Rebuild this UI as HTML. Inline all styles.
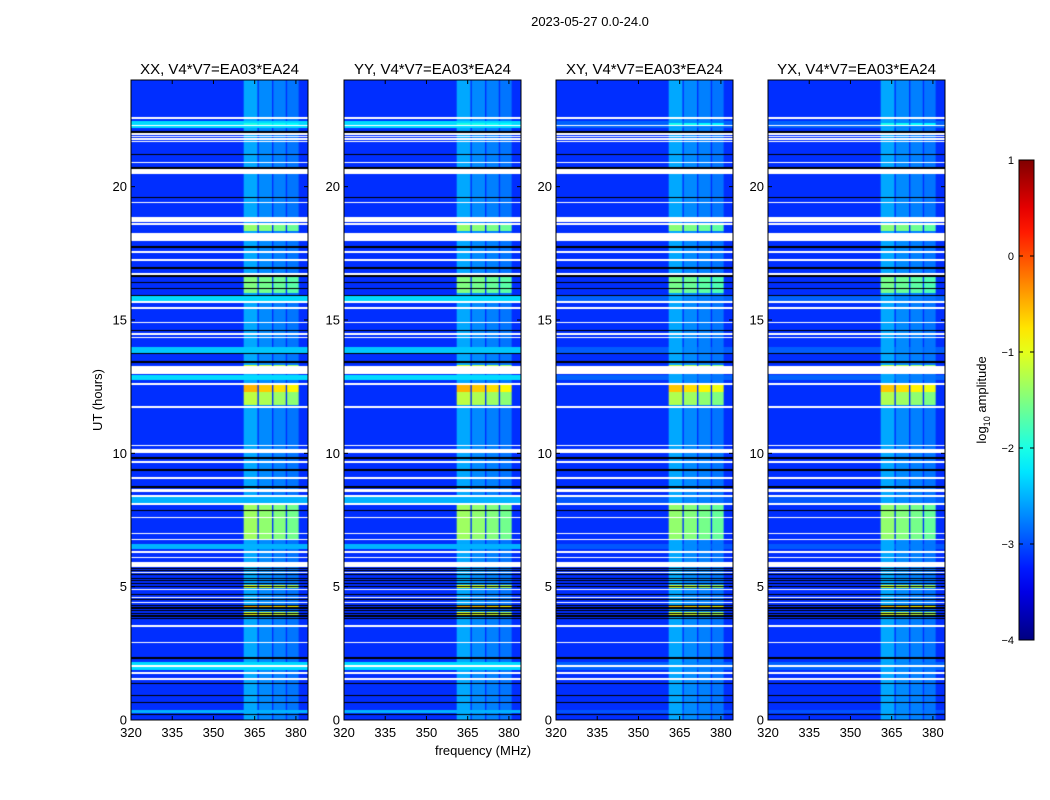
<!DOCTYPE html>
<html><head><meta charset="utf-8">
<style>
body{margin:0;background:#fff;width:1050px;height:800px;overflow:hidden;font-family:"Liberation Sans",sans-serif;}
#wrap{position:relative;width:1050px;height:800px;}
canvas{position:absolute;}
svg{position:absolute;left:0;top:0;}
</style></head><body>
<div id="wrap">
<svg id="svg" width="1050" height="800"></svg>
</div>
<script>
// ---- data (hours, MHz, log10 amplitude) ----
const panelTitles = ["XX, V4*V7=EA03*EA24","YY, V4*V7=EA03*EA24","XY, V4*V7=EA03*EA24","YX, V4*V7=EA03*EA24"];
const panelGain = [1.0, 1.0, 0.95, 0.95];
const cyanGain = [1.0, 1.0, 0.3, 0.3];
const yTicks = [0,5,10,15,20];
const xTicks = [320,335,350,365,380];
const cbTicks = [1,0,-1,-2,-3,-4];
const backgroundLevel = -3.15;
const subbands = [[361,366,-2.55],[366.5,371.3,-2.7],[371.8,376.3,-2.75],[376.8,381,-2.8]];
const whiteFlags = [[22.55,22.62],[22.27,22.33],[21.95,22.0],[21.85,21.9],[21.76,21.81],[21.67,21.72],[20.87,20.93],[20.47,20.66],[19.37,19.43],[18.67,18.86],[18.57,18.62],[17.96,18.26],[17.52,17.58],[17.22,17.28],[16.7,16.75],[15.65,15.7],[15.42,15.48],[14.87,14.93],[14.45,14.5],[14.33,14.38],[13.21,13.27],[12.97,13.2],[12.57,12.63],[11.71,11.77],[10.27,10.33],[10.0,10.16],[9.64,9.7],[9.04,9.1],[8.55,8.66],[8.37,8.43],[8.07,8.13],[7.57,7.63],[6.97,7.03],[6.75,6.8],[6.27,6.33],[6.07,6.13],[5.75,5.93],[5.5,5.55],[4.87,4.93],[4.57,4.62],[4.37,4.42],[3.49,3.55],[2.87,2.93],[1.99,2.05],[1.73,1.79],[1.51,1.57]];
const blackFlags = [[22.02,22.08],[21.17,21.23],[20.67,20.73],[19.57,19.63],[17.71,17.77],[16.92,16.98],[16.62,16.68],[16.37,16.42],[16.15,16.2],[15.89,15.94],[14.57,14.63],[13.73,13.78],[13.4,13.45],[9.79,9.85],[9.34,9.4],[8.7,8.76],[7.82,7.88],[5.66,5.7],[5.6,5.63],[5.42,5.46],[5.3,5.34],[5.2,5.24],[5.1,5.14],[4.99,5.03],[4.7,4.74],[4.5,4.54],[4.27,4.3],[4.18,4.22],[4.08,4.12],[3.98,4.02],[3.88,3.94],[3.8,3.84],[2.3,2.35],[1.35,1.4],[0.9,0.95],[0.63,0.68],[0.18,0.23]];
const cyanBands = [[22.2,22.45,-2.3],[15.7,15.9,-2.3],[13.75,14.0,-2.4],[12.75,12.95,-2.3],[8.1,8.4,-2.5],[6.4,6.6,-2.5],[1.87,2.17,-2.3],[0.25,0.37,-2.5]];
const rfiEvents = [[22.26,22.4,-2.0],[20.66,20.72,-0.6],[18.34,18.56,-1.4],[16.0,16.7,-1.5],[13.27,13.33,-1.1],[12.3,12.63,-0.5],[11.8,12.3,-1.2],[10.0,10.05,-0.9],[6.75,8.05,-1.35],[4.95,5.05,-1.0],[4.2,4.3,-0.5],[3.95,4.05,-1.0]];
const subGain = [1.0, 0.95, 0.9, 0.85];

// ---- geometry ----
const panelLeft = [131,344,556,768];
const PW = 177, PT = 80, PB = 720;
const fMin = 320, fMax = 384.4, hMin = 0, hMax = 24;
const yScale = h => PB - (h - hMin) / (hMax - hMin) * (PB - PT);
const xScale = (i, f) => panelLeft[i] + (f - fMin) / (fMax - fMin) * PW;

function jet(v){
  let t = (v + 4) / 5; t = Math.max(0, Math.min(1, t));
  const c = x => Math.round(255 * Math.max(0, Math.min(1, x)));
  return `rgb(${c(1.5 - Math.abs(4*t - 3))},${c(1.5 - Math.abs(4*t - 2))},${c(1.5 - Math.abs(4*t - 1))})`;
}
const inAny = (arr, h) => arr.find(r => h >= r[0] && h <= r[1]);

const wrap = document.getElementById('wrap');
const svg = document.getElementById('svg');
const NS = 'http://www.w3.org/2000/svg';
function el(tag, attrs, parent){ const e = document.createElementNS(NS, tag); for (const k in attrs) e.setAttribute(k, attrs[k]); (parent||svg).appendChild(e); return e; }
function txt(x, y, s, size, anchor, parent){ const t = el('text', {x:x, y:y, 'font-size':size, 'text-anchor':anchor||'middle', fill:'#000', 'font-family':'Liberation Sans, sans-serif'}, parent); t.textContent = s; return t; }

for (let i = 0; i < 4; i++) {
  const cv = document.createElement('canvas');
  cv.width = PW; cv.height = PB - PT;
  cv.style.left = panelLeft[i] + 'px'; cv.style.top = PT + 'px';
  
  
  wrap.insertBefore(cv, svg);
  const ctx = cv.getContext('2d');
  for (let py = 0; py < PB - PT; py++) {
    const h = hMax - (py + 0.5) / (PB - PT) * (hMax - hMin);
    let rowColor = null;
    if (inAny(whiteFlags, h)) rowColor = '#ffffff';
    else if (inAny(blackFlags, h)) rowColor = '#000000';
    if (rowColor) { ctx.fillStyle = rowColor; ctx.fillRect(0, py, PW, 1); continue; }
    const cb = inAny(cyanBands, h);
    let base = backgroundLevel;
    if (cb) base = backgroundLevel + (cb[2] - backgroundLevel) * cyanGain[i];
    ctx.fillStyle = jet(base); ctx.fillRect(0, py, PW, 1);
    const ev = inAny(rfiEvents, h);
    subbands.forEach((s, k) => {
      let v = s[2];
      if (ev) v = s[2] + (ev[2] - s[2]) * panelGain[i] * subGain[k];
      v = Math.max(v, base);
      const x0 = xScale(i, s[0]) - panelLeft[i], x1 = xScale(i, s[1]) - panelLeft[i];
      ctx.fillStyle = jet(v); ctx.fillRect(x0, py, x1 - x0, 1);
    });
  }
}

// axes / ticks / labels
for (let i = 0; i < 4; i++) {
  const g = el('g', { });
  const L = panelLeft[i];
  el('rect', {x:L, y:PT, width:PW, height:PB-PT, fill:'none', stroke:'#000', 'stroke-width':1}, g);
  const t = txt(L + PW/2, 74, panelTitles[i], 15, 'middle', g);
  
  
  yTicks.forEach(v => {
    const y = yScale(v);
    el('line', {x1:L, x2:L+4, y1:y, y2:y, stroke:'#000'}, g);
    el('line', {x1:L+PW, x2:L+PW-4, y1:y, y2:y, stroke:'#000'}, g);
    const tl = txt(L - 4, y + 4.5, String(v), 13, 'end', g);
    
    
  });
  xTicks.forEach(v => {
    const x = xScale(i, v);
    el('line', {x1:x, x2:x, y1:PB, y2:PB-4, stroke:'#000'}, g);
    el('line', {x1:x, x2:x, y1:PT, y2:PT+4, stroke:'#000'}, g);
    const tl = txt(x, 737, String(v), 13, 'middle', g);
    
    
  });
}
const mt = txt(590, 26, '2023-05-27 0.0-24.0', 13, 'middle');


const xl = txt(483, 755, 'frequency (MHz)', 13, 'middle');


const yl = txt(0, 0, 'UT (hours)', 13, 'middle');
yl.setAttribute('transform', 'translate(102,400) rotate(-90)');



// colorbar
const cbG = el('g', { });
const defs = el('defs', {});
const grad = el('linearGradient', {id:'jetg', x1:0, y1:1, x2:0, y2:0}, defs);
for (let k = 0; k <= 20; k++) el('stop', {offset: k/20, 'stop-color': jet(-4 + 5*k/20)}, grad);
const cbTop = 160, cbBot = 640, cbL = 1019, cbW = 15;
el('rect', {x:cbL, y:cbTop, width:cbW, height:cbBot-cbTop, fill:'url(#jetg)', stroke:'#000'}, cbG);
cbTicks.forEach(v => {
  const y = cbBot - (v + 4) / 5 * (cbBot - cbTop);
  el('line', {x1:cbL, x2:cbL+4, y1:y, y2:y, stroke:'#000'}, cbG);
  el('line', {x1:cbL+cbW, x2:cbL+cbW-4, y1:y, y2:y, stroke:'#000'}, cbG);
  const tl = txt(1014, y + 4, v < 0 ? '\u2212' + (-v) : String(v), 11, 'end', cbG);
  
  
});
const cl = el('text', {x:0, y:0, 'font-size':13, 'text-anchor':'middle', transform:'translate(986,400) rotate(-90)', 'font-family':'Liberation Sans, sans-serif'}, cbG);
cl.innerHTML = 'log<tspan font-size="9" dy="4">10</tspan><tspan dy="-4"> amplitude</tspan>';


</script>
</body></html>
